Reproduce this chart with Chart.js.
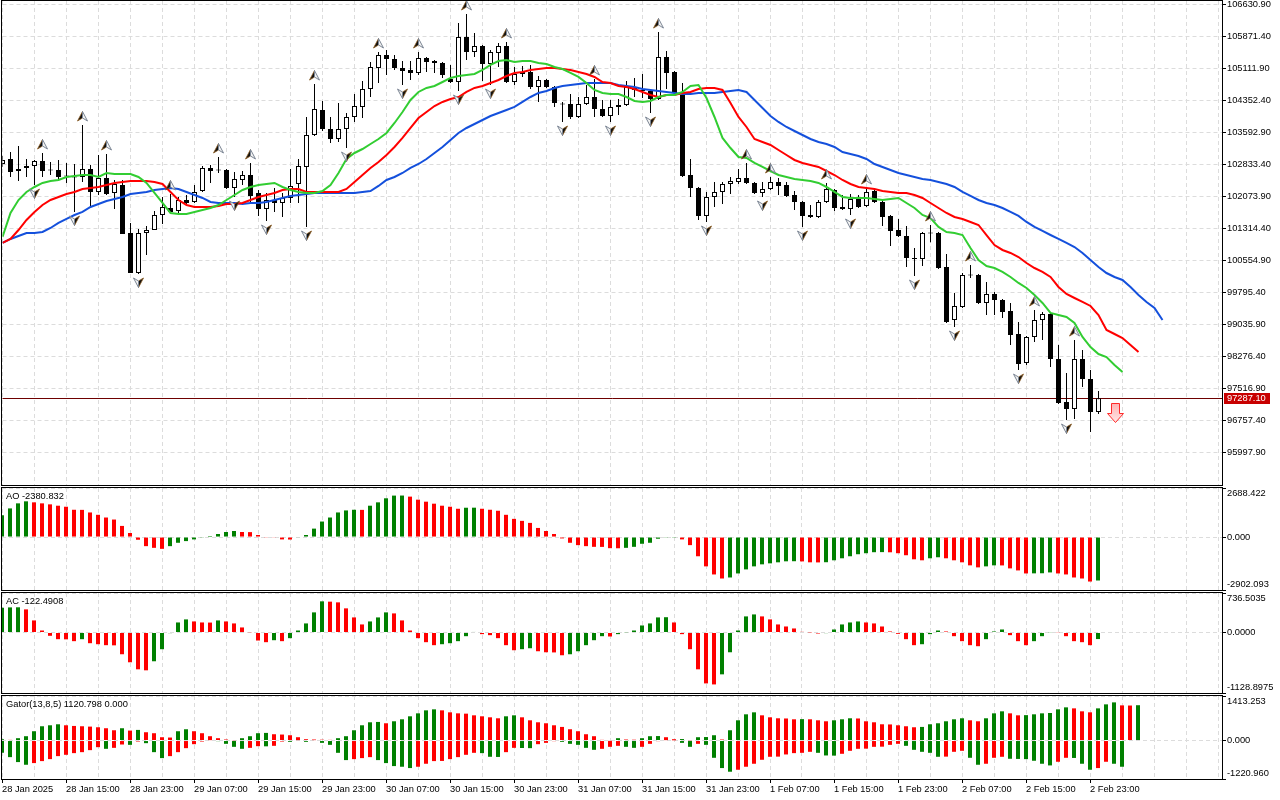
<!DOCTYPE html>
<html>
<head>
<meta charset="utf-8">
<script src="https://cdn.jsdelivr.net/npm/chart.js@4.4.1/dist/chart.umd.min.js"></script>
<style>
html, body { margin: 0; padding: 0; background: #fff; overflow: hidden; }
#wrap { position: relative; width: 1280px; height: 800px; }
canvas { position: absolute; left: 0; }
</style>
</head>
<body>
<div id="wrap">
<canvas id="main" width="1280" height="487" style="top:0px"></canvas>
<canvas id="ao" width="1280" height="104" style="top:487px"></canvas>
<canvas id="ac" width="1280" height="102" style="top:592px"></canvas>
<canvas id="gator" width="1280" height="105" style="top:695px"></canvas>
</div>
<script>
// BTCUSD H1, 28 Jan 07:00 .. 3 Feb 00:00
const timeLabels = ['28 Jan 2025', '28 Jan 15:00', '28 Jan 23:00', '29 Jan 07:00', '29 Jan 15:00', '29 Jan 23:00',
  '30 Jan 07:00', '30 Jan 15:00', '30 Jan 23:00', '31 Jan 07:00', '31 Jan 15:00', '31 Jan 23:00',
  '1 Feb 07:00', '1 Feb 15:00', '1 Feb 23:00', '2 Feb 07:00', '2 Feb 15:00', '2 Feb 23:00'];

const open = [102846,102964,102679,102751,102799,102917,102703,102703,102561,102525,102537,102727,102182,102513,102158,102347,101208,100259,101208,101279,
  101635,101801,101730,101991,101944,102205,102751,102703,102703,102276,102466,102584,102158,101777,101991,101920,102039,102371,102775,103534,
  104127,103676,103439,103676,103961,104199,104625,105124,105432,105337,105124,105077,105006,105361,105290,105242,104863,104792,105860,105504,
  105646,105219,105480,105646,104792,104982,105029,104673,104839,104673,104270,104270,103961,104270,104436,104151,103985,104199,104246,104602,
  104602,104578,104388,105385,105029,104483,102584,102276,101612,102063,102182,102371,102419,102513,102395,102158,102252,102419,102347,102110,
  101944,101635,101588,101944,102229,101825,101777,102015,101849,102205,101944,101612,101279,101137,100614,100591,101208,101208,100401,99143,
  99451,100211,100211,99546,99760,99618,99357,98811,98123,98740,99143,99286,98217,97197,97031,98217,97743,96960];
const high = [103036,103131,103273,102964,102941,103107,102894,102941,102870,102846,103771,102822,103059,103083,102466,102466,101446,101303,101375,101730,
  102063,102134,102063,102110,102347,102799,102822,103012,102727,102656,102679,102870,102229,102158,102276,102158,102727,102964,103961,104744,
  104341,103961,104293,104056,104507,104815,105267,105504,105551,105432,105290,105290,105504,105385,105314,105266,105195,106192,106406,105955,
  105670,105551,105717,105741,105148,105171,105195,104934,104863,104697,104317,104507,104436,104720,104863,104365,104365,104388,104816,104887,
  104982,104602,105978,105527,105053,104768,102964,102300,102182,102419,102419,102537,102727,102870,102419,102419,102537,102513,102419,102205,
  101968,101873,101991,102395,102252,102110,102134,102110,102276,102229,101968,101635,101541,101375,100852,101232,101398,101232,100710,99784,
  100259,100449,100235,100045,99808,99641,99546,99096,98764,99381,99333,99310,98550,97885,98668,98431,97956,97458];
const low = [102775,102537,102442,102537,102347,102537,102584,102466,102395,101707,102419,101849,102110,102110,101777,101184,100259,100235,100686,101279,
  101422,101683,101683,101896,101920,102182,102395,102632,102252,102063,102347,101944,101612,101493,101707,101588,101920,101920,101351,103510,
  103629,103344,103368,103225,103843,103937,104436,104768,104958,105077,104720,104839,104958,105029,105006,104887,104768,104578,105314,105385,
  104816,104720,105148,104768,104720,104911,104626,104317,104649,104199,103843,103914,103937,104246,103961,103961,103843,104008,104222,104436,
  104412,104056,104365,104626,104483,102537,102063,101517,101469,101825,101896,102134,102371,102371,102134,102063,102229,102110,102063,101754,
  101351,101565,101565,101920,101730,101754,101635,101801,101825,101920,101375,100899,101113,100401,100187,100425,100989,100354,99072,98977,
  99428,100140,99523,99262,99262,99191,98550,97956,98075,98621,98668,98027,97149,96770,96794,97553,96485,96913];
const close = [102941,102656,102727,102799,102917,102679,102691,102537,102549,102537,102727,102182,102513,102134,102371,101184,100259,101208,101279,101635,
  101825,101707,101991,101920,102182,102751,102679,102691,102276,102489,102584,102087,101777,101991,101920,102039,102324,102799,103534,104151,
  103676,103439,103676,103961,104222,104625,105148,105432,105337,105124,105053,105006,105361,105266,105242,104958,104792,105860,105504,105646,
  105219,105504,105646,104792,104982,105029,104673,104839,104673,104293,104258,103961,104270,104436,104151,103985,104199,104246,104673,104649,
  104578,104388,105385,105006,104531,102561,102276,101612,102063,102182,102371,102442,102513,102395,102158,102252,102419,102324,102087,101944,
  101612,101588,101944,102252,101801,101777,102015,101825,102182,101944,101588,101255,101137,100614,100591,101208,101196,100378,99096,99475,
  100211,100199,99546,99760,99618,99333,98787,98099,98740,99143,99286,98217,97173,97031,98217,97743,96960,97287.10];

// Alligator, already shifted forward (jaw 8, teeth 5, lips 3)
const jaw = [100971,101066,101137,101208,101208,101232,101327,101446,101541,101635,101707,101825,101896,101968,102015,102063,102134,102158,102182,102229,
  102253,102276,102253,102182,102110,102039,101944,101920,101920,101920,101896,101920,101920,101944,101991,102039,102087,102110,102134,102158,
  102158,102158,102158,102158,102158,102182,102205,102324,102466,102537,102632,102751,102846,102964,103107,103249,103415,103582,103700,103795,
  103890,103985,104056,104127,104199,104318,104436,104531,104578,104650,104697,104720,104744,104768,104768,104768,104768,104720,104697,104673,
  104626,104602,104578,104555,104531,104507,104507,104531,104531,104531,104555,104578,104602,104555,104365,104175,103985,103843,103724,103629,
  103534,103439,103368,103320,103249,103130,103083,103036,102964,102846,102775,102703,102632,102584,102537,102489,102466,102419,102371,102300,
  102182,102087,101991,101920,101873,101801,101707,101612,101470,101351,101256,101160,101066,100971,100876,100734,100567,100401,100258,100164,
  100093,99927,99737,99571,99428,99143];
const teeth = [100971,101066,101279,101517,101707,101873,101991,102063,102134,102182,102253,102276,102300,102347,102395,102419,102442,102442,102442,102419,
  102371,102182,101991,101873,101825,101825,101825,101849,101896,101896,101920,101991,102063,102110,102158,102229,102253,102253,102182,102182,
  102182,102182,102182,102253,102419,102584,102751,102894,103059,103249,103463,103700,103937,104080,104222,104318,104388,104436,104555,104650,
  104697,104768,104839,104934,105006,105029,105077,105100,105124,105124,105100,105077,105029,104982,104911,104792,104768,104697,104673,104626,
  104555,104483,104436,104483,104483,104531,104555,104626,104650,104650,104602,104294,103961,103724,103439,103368,103296,103178,103059,102941,
  102870,102822,102775,102679,102584,102466,102371,102300,102276,102253,102205,102182,102158,102158,102110,102039,101920,101801,101683,101588,
  101541,101470,101398,101160,100923,100805,100734,100638,100496,100377,100283,100164,99927,99760,99665,99571,99476,99262,98906,98811,
  98716,98550,98384];
const lips = [101113,101683,101991,102182,102300,102395,102442,102466,102537,102561,102584,102584,102537,102632,102608,102608,102608,102537,102395,102158,
  101920,101683,101659,101659,101707,101754,101801,101872,101991,102110,102229,102300,102347,102371,102395,102300,102229,102182,102158,102158,
  102205,102347,102632,102964,103107,103201,103320,103439,103582,103819,104080,104365,104555,104650,104697,104792,104887,104934,104958,104982,
  105077,105196,105290,105314,105267,105290,105290,105243,105219,105148,105100,105006,104911,104768,104602,104531,104507,104507,104436,104341,
  104318,104341,104436,104483,104483,104555,104697,104720,104412,103961,103463,103225,103012,102988,102870,102775,102679,102584,102537,102489,
  102466,102442,102395,102300,102182,102063,102039,102039,102039,102015,101991,102015,102039,101920,101801,101635,101564,101351,101232,101208,
  101160,100852,100567,100425,100377,100283,100164,100022,99903,99737,99547,99310,99262,99215,99072,98740,98502,98336,98265,98075,
  97909];

// Bill Williams fractals (bar indexes)
const fractalUp = [5, 10, 13, 21, 27, 31, 39, 47, 52, 58, 63, 74, 82, 93, 96, 103, 108, 116, 121, 129, 134];
const fractalDown = [4, 9, 17, 29, 33, 38, 43, 50, 57, 61, 70, 76, 81, 88, 95, 100, 106, 114, 119, 127, 133];
const sellSignal = { index: 139, price: 97173 };

const aoValues = [1200,1570,1847,1958,1902,1847,1792,1718,1662,1496,1490,1348,1219,1071,960,610,222,-148,-499,-591,
  -646,-499,-314,-222,-129,-37,55,166,277,332,277,270,111,-18,-20,-129,-135,-25,111,462,
  850,1071,1348,1459,1496,1490,1718,1902,2124,2272,2275,2216,2050,1939,1829,1718,1662,1551,1607,1610,
  1551,1496,1441,1219,997,887,776,499,332,166,-74,-314,-443,-499,-536,-540,-610,-615,-591,-536,
  -369,-314,-92,-37,-15,-129,-443,-1053,-1607,-2050,-2272,-2216,-1995,-1773,-1607,-1496,-1441,-1385,-1330,-1325,
  -1335,-1385,-1390,-1380,-1274,-1164,-1053,-942,-887,-831,-826,-835,-887,-997,-1219,-1274,-1164,-1108,-1164,-1274,
  -1385,-1551,-1662,-1607,-1551,-1555,-1718,-1829,-1995,-1990,-1985,-1939,-1995,-2050,-2216,-2272,-2438,-2380.832];
const acValues = [460,468,470,431,225,37,-62,-125,-128,-162,-125,-200,-219,-237,-240,-406,-556,-687,-706,-537,
  -312,-12,187,244,206,187,185,225,206,169,94,5,-150,-181,-144,-162,-106,37,169,375,
  581,575,562,450,281,150,206,281,375,356,225,37,-106,-181,-237,-219,-200,-162,-69,10,
  -31,-50,-106,-237,-331,-312,-294,-350,-369,-372,-425,-406,-350,-237,-144,-69,-75,-31,-6,37,
  131,169,281,285,187,-31,-312,-687,-950,-969,-781,-369,37,300,337,300,244,150,112,75,
  12,3,-19,-12,56,150,187,206,187,169,112,19,-25,-125,-237,-219,-31,37,19,-69,
  -162,-237,-256,-125,19,56,-50,-162,-237,-162,-69,6,-6,-69,-162,-181,-237,-122.4908];
const gatorUp = [42,21,74,137,295,453,484,516,484,463,453,442,421,390,326,390,316,337,263,232,
  105,95,295,358,295,232,137,74,32,11,74,137,232,242,200,190,168,105,42,32,
  26,21,74,137,326,484,579,590,548,611,674,769,863,958,990,958,895,863,853,800,
  769,737,706,769,800,737,642,579,548,484,432,358,295,200,137,21,11,74,32,26,
  74,137,142,105,42,47,11,105,111,168,32,326,642,832,895,800,737,706,700,674,
  679,674,642,611,642,674,706,700,611,579,516,511,484,453,421,432,516,548,611,674,
  706,642,611,706,863,927,863,800,806,832,863,874,990,1053,1021,927,895,1021,1148,1211,
  1116,1111,1120.798];
const gatorDown = [-390,-527,-684,-769,-716,-653,-590,-495,-453,-400,-369,-305,-211,-263,-232,-126,-137,-32,-84,-369,
  -558,-495,-369,-242,-116,-32,-11,-21,-105,-200,-263,-232,-179,-184,-168,-32,-42,-11,-42,-11,
  -74,-137,-390,-621,-590,-558,-527,-621,-716,-811,-832,-874,-832,-737,-653,-648,-590,-527,-453,-390,
  -400,-516,-521,-369,-232,-237,-242,-116,-74,-21,-42,-105,-137,-232,-295,-263,-200,-168,-200,-232,
  -200,-105,-21,-11,-5,-74,-200,-105,-137,-548,-874,-990,-927,-832,-737,-611,-516,-511,-442,-400,
  -390,-358,-390,-474,-479,-421,-326,-263,-258,-200,-195,-137,-105,-168,-295,-358,-390,-516,-511,-358,
  -326,-548,-769,-737,-548,-516,-579,-584,-590,-642,-737,-790,-674,-548,-553,-737,-927,-874,-674,-737,
  -832];

const priceTicks = [106630.90, 105871.40, 105111.90, 104352.40, 103592.90, 102833.40, 102073.90, 101314.40,
  100554.90, 99795.40, 99035.90, 98276.40, 97516.90, 96757.40, 95997.90];
const aoTicks = [2688.422, 0, -2902.093];
const acTicks = [736.5035, 0, -1128.8975];
const gatorTicks = [1413.253, 0, -1220.960];

const GREEN = '#008000';
const RED = '#ff0000';
const GRID = '#dcdcdc';
const FONT = { family: '"Liberation Sans", Arial, sans-serif', size: 9.3 };
const FONT_CSS = '9.3px "Liberation Sans", Arial, sans-serif';

const gridIdx = [];
for (let i = 0; i <= 152; i += 4) gridIdx.push(i);

const pts = arr => arr.map((v, i) => ({ x: i, y: v }));

// green when the bar grows, red when it shrinks
function barColors(arr, useAbs) {
  return arr.map((v, i) => {
    if (i === 0) return GREEN;
    const a = useAbs ? Math.abs(v) : v;
    const b = useAbs ? Math.abs(arr[i - 1]) : arr[i - 1];
    return a > b ? GREEN : RED;
  });
}

function xScale(showLabels, max) {
  return {
    type: 'linear', min: 0, max: max, offset: false,
    afterBuildTicks: ax => { ax.ticks = gridIdx.map(v => ({ value: v })); },
    afterFit: ax => {
      ax.height = showLabels ? 21 : 0;
      ax.paddingLeft = 0;
      ax.paddingRight = 0;
    },
    grid: {
      color: GRID, offset: false, drawTicks: showLabels, tickLength: 4,
      tickColor: c => (c.tick && c.tick.value % 8 === 0 && c.tick.value <= 136) ? '#000' : 'rgba(0,0,0,0)'
    },
    border: { display: false, dash: [4, 3] },
    ticks: {
      display: showLabels, autoSkip: false, maxRotation: 0, minRotation: 0, align: 'start', padding: 1,
      color: '#000', font: FONT,
      callback: v => (v % 8 === 0 && timeLabels[v / 8]) || ''
    }
  };
}

function yScale(min, max, vals, digits, edgeLabels) {
  return {
    type: 'linear', position: 'right', min: min, max: max, beginAtZero: false,
    afterBuildTicks: ax => { ax.ticks = vals.map(v => ({ value: v })); },
    afterFit: ax => {
      ax.width = 58;
      ax.paddingTop = 0;
      ax.paddingBottom = 0;
    },
    grid: { color: GRID, drawTicks: true, tickLength: 4, tickColor: '#000' },
    border: { display: false, dash: [4, 3] },
    ticks: {
      color: '#000', font: FONT, padding: 1, autoSkip: false,
      callback: v => {
        const s = v.toFixed(digits);
        if (!edgeLabels) return s;
        if (v === max) return ['', s];
        if (v === min) return [s, ''];
        return s;
      }
    }
  };
}

const framePlugin = {
  id: 'frame',
  afterDraw(chart) {
    const { ctx, chartArea: a } = chart;
    const x0 = Math.floor(a.left) - 0.5, y0 = Math.floor(a.top) - 0.5;
    const x1 = Math.floor(a.right) + 0.5, y1 = Math.floor(a.bottom) + 0.5;
    ctx.save();
    ctx.strokeStyle = '#000';
    ctx.lineWidth = 1;
    ctx.strokeRect(x0, y0, x1 - x0, y1 - y0);
    ctx.restore();
  }
};

const panelLabel = {
  id: 'panelLabel',
  afterDraw(chart, args, opts) {
    if (!opts.text) return;
    const { ctx, chartArea: a } = chart;
    ctx.save();
    ctx.font = FONT_CSS;
    ctx.fillStyle = '#000';
    ctx.textBaseline = 'middle';
    ctx.fillText(opts.text, a.left + 4, a.top + 8.5);
    ctx.restore();
  }
};

const lastPrice = close[close.length - 1];

const priceLine = {
  id: 'priceLine',
  beforeDatasetsDraw(chart) {
    const { ctx, chartArea: a, scales } = chart;
    const py = Math.round(scales.y.getPixelForValue(lastPrice)) + 0.5;
    ctx.save();
    ctx.strokeStyle = '#6e0000';
    ctx.lineWidth = 1;
    ctx.beginPath();
    ctx.moveTo(a.left, py);
    ctx.lineTo(a.right, py);
    ctx.stroke();
    ctx.restore();
  },
  afterDatasetsDraw(chart) {
    // sell arrow
    const { ctx, scales } = chart;
    const x = Math.round(scales.x.getPixelForValue(sellSignal.index)) + 0.5;
    const y = Math.round(scales.y.getPixelForValue(sellSignal.price)) + 0.5;
    ctx.save();
    ctx.beginPath();
    ctx.moveTo(x - 4, y);
    ctx.lineTo(x + 4, y);
    ctx.lineTo(x + 4, y + 10);
    ctx.lineTo(x + 8, y + 10);
    ctx.lineTo(x, y + 19);
    ctx.lineTo(x - 8, y + 10);
    ctx.lineTo(x - 4, y + 10);
    ctx.closePath();
    const g = ctx.createLinearGradient(0, y, 0, y + 19);
    g.addColorStop(0, '#ffb4b4');
    g.addColorStop(1, '#ffe6e6');
    ctx.fillStyle = g;
    ctx.fill();
    ctx.strokeStyle = '#ff2a2a';
    ctx.lineWidth = 1;
    ctx.stroke();
    ctx.restore();
  },
  afterDraw(chart) {
    const { ctx, chartArea: a, scales } = chart;
    const py = Math.round(scales.y.getPixelForValue(lastPrice));
    ctx.save();
    ctx.fillStyle = '#c80000';
    ctx.fillRect(a.right + 2, py - 5, 46, 11);
    ctx.font = FONT_CSS;
    ctx.fillStyle = '#fff';
    ctx.textBaseline = 'middle';
    ctx.fillText(lastPrice.toFixed(2), a.right + 5, py + 0.5);
    ctx.restore();
  }
};

// fractal marks: arrowhead in one end of a tall transparent image, so it sits off the bar
function fractalIcon(up) {
  const c = document.createElement('canvas');
  c.width = 11;
  c.height = 28;
  const g = c.getContext('2d');
  g.save();
  if (!up) {
    g.translate(11, 28);
    g.rotate(Math.PI);
  }
  g.beginPath();
  g.moveTo(5.5, 0.5); g.lineTo(5.5, 7); g.lineTo(0.5, 10); g.closePath();
  g.fillStyle = '#111';
  g.fill();
  g.strokeStyle = '#8a5a20';
  g.lineWidth = 0.8;
  g.stroke();
  g.beginPath();
  g.moveTo(5.5, 0.5); g.lineTo(10.5, 10); g.lineTo(5.5, 7); g.closePath();
  g.fillStyle = '#f2f2f2';
  g.fill();
  g.strokeStyle = '#7c8694';
  g.lineWidth = 1;
  g.stroke();
  g.restore();
  return c;
}
const iconUp = fractalIcon(true);
const iconDown = fractalIcon(false);

const baseOptions = (pad, scales, label) => ({
  responsive: false,
  animation: false,
  events: [],
  layout: { autoPadding: false, padding: pad },
  plugins: { legend: { display: false }, tooltip: { enabled: false }, panelLabel: { text: label } },
  scales: scales
});

Chart.register(framePlugin, panelLabel);

// main price panel
new Chart(document.getElementById('main'), {
  type: 'bar',
  data: {
    datasets: [
      {
        label: 'wick', data: high.map((h, i) => ({ x: i, y: [low[i], h] })),
        backgroundColor: '#000', barThickness: 1, grouped: false, inflateAmount: 0, order: 5
      },
      {
        label: 'body', data: open.map((o, i) => ({ x: i, y: [o, close[i]] })),
        backgroundColor: open.map((o, i) => close[i] > o ? '#ffffff' : '#000000'),
        borderColor: '#000', borderWidth: 1, borderSkipped: false, barThickness: 5,
        grouped: false, inflateAmount: 0, minBarLength: 1, order: 4
      },
      { type: 'line', label: 'Jaw', data: pts(jaw), borderColor: '#1450dc', borderWidth: 2, pointRadius: 0, order: 3 },
      { type: 'line', label: 'Teeth', data: pts(teeth), borderColor: RED, borderWidth: 2, pointRadius: 0, order: 2 },
      { type: 'line', label: 'Lips', data: pts(lips), borderColor: '#32cd32', borderWidth: 2, pointRadius: 0, order: 1 },
      {
        type: 'line', label: 'Fractal up', data: fractalUp.map(i => ({ x: i, y: high[i] })),
        showLine: false, pointStyle: iconUp, pointRadius: 5, order: 0
      },
      {
        type: 'line', label: 'Fractal down', data: fractalDown.map(i => ({ x: i, y: low[i] })),
        showLine: false, pointStyle: iconDown, pointRadius: 5, order: 0
      }
    ]
  },
  options: baseOptions({ left: 2.5, top: 1, bottom: 2, right: 0 }, {
    x: xScale(false, 152.4375),
    y: yScale(95227, 106714, priceTicks, 2, false)
  }, ''),
  plugins: [priceLine]
});

function histogram(id, sets, ticks, digits, label, padBottom, showX) {
  return new Chart(document.getElementById(id), {
    type: 'bar',
    data: {
      datasets: sets.map(s => ({
        data: pts(s.values), backgroundColor: barColors(s.values, s.abs),
        barThickness: 4, grouped: false, inflateAmount: 0, borderWidth: 0
      }))
    },
    options: baseOptions({ left: 2, top: 1, bottom: padBottom, right: 0 }, {
      x: xScale(showX, 152.5),
      y: yScale(ticks[2], ticks[0], ticks, digits, true)
    }, label)
  });
}

histogram('ao', [{ values: aoValues }], aoTicks, 3, 'AO -2380.832', 1, false);
histogram('ac', [{ values: acValues }], acTicks, 4, 'AC -122.4908', 1, false);
histogram('gator', [{ values: gatorUp }, { values: gatorDown, abs: true }], gatorTicks, 3,
  'Gator(13,8,5) 1120.798 0.000', 0, true);
</script>
</body>
</html>
